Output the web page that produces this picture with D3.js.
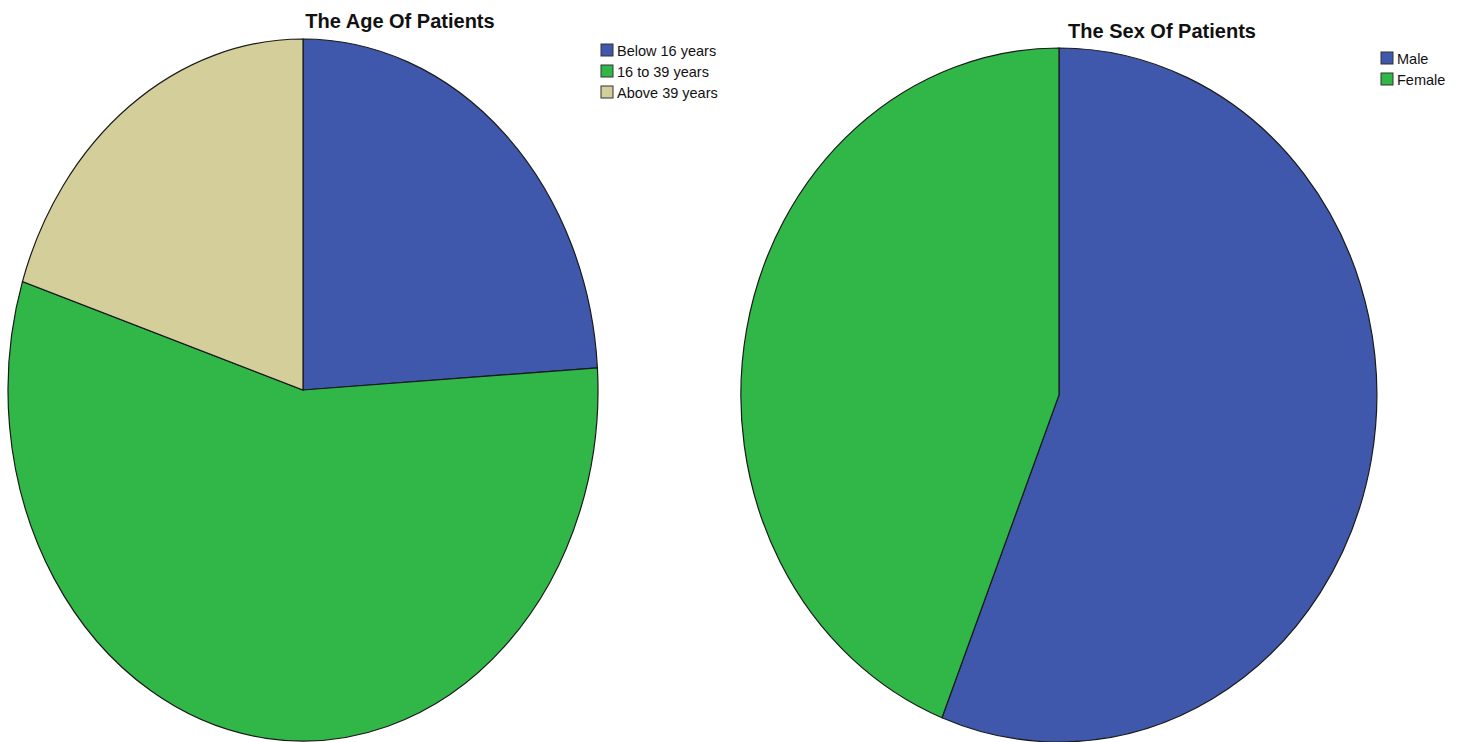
<!DOCTYPE html>
<html>
<head>
<meta charset="utf-8">
<script src="https://cdn.jsdelivr.net/npm/d3@7"></script>
<style>
  body { margin: 0; background: #fff; }
  svg { display: block; }
</style>
</head>
<body>
<div id="chart-area"></div>
<script>
// data (percent)
var ageLabels = ['Below 16 years', '16 to 39 years', 'Above 39 years'];
var ageValues = [24, 56, 20];
var sexLabels = ['Male', 'Female'];
var sexValues = [56, 44];

var colors = ['#3f58ab', '#30b748', '#d4ce9b'];

var svg = d3.select('#chart-area').append('svg')
    .attr('width', 1460)
    .attr('height', 742);

var pie = d3.pie().sort(null).value(d => d);
var arc = d3.arc().innerRadius(0).outerRadius(1);

function drawPie(opt) {
    // unit pie, stretched into an ellipse
    var g = svg.append('g')
        .attr('transform', 'translate(' + opt.cx + ',' + opt.cy + ') scale(' + opt.rx + ',' + opt.ry + ')');

    g.selectAll('path')
        .data(pie(opt.values))
        .enter()
        .append('path')
        .attr('d', arc)
        .attr('fill', (d, i) => colors[i])
        .attr('stroke', '#1a1a1a')
        .attr('stroke-width', 1.2)
        .attr('vector-effect', 'non-scaling-stroke');

    svg.append('text')
        .attr('x', opt.titleX)
        .attr('y', opt.titleY)
        .attr('text-anchor', 'middle')
        .attr('font-family', 'Liberation Sans, Arial, sans-serif')
        .attr('font-weight', 'bold')
        .attr('font-size', '20px')
        .attr('fill', '#111')
        .text(opt.title);

    var leg = svg.append('g')
        .attr('transform', 'translate(' + opt.legX + ',' + opt.legY + ')');
    var rows = leg.selectAll('g')
        .data(opt.labels)
        .enter()
        .append('g')
        .attr('transform', (d, i) => 'translate(0,' + (i * 21) + ')');
    rows.append('rect')
        .attr('width', 12)
        .attr('height', 12)
        .attr('fill', (d, i) => colors[i])
        .attr('stroke', '#333')
        .attr('stroke-width', 1);
    rows.append('text')
        .attr('x', 16)
        .attr('y', 11.5)
        .attr('font-family', 'Liberation Sans, Arial, sans-serif')
        .attr('font-size', '14.5px')
        .attr('fill', '#111')
        .text(d => d);
}

drawPie({
    values: ageValues, labels: ageLabels, title: 'The Age Of Patients',
    cx: 303, cy: 390, rx: 295, ry: 351,
    titleX: 400, titleY: 28, legX: 601, legY: 44
});

drawPie({
    values: sexValues, labels: sexLabels, title: 'The Sex Of Patients',
    cx: 1059, cy: 395, rx: 318, ry: 347,
    titleX: 1162, titleY: 38, legX: 1381, legY: 52
});
</script>
</body>
</html>
